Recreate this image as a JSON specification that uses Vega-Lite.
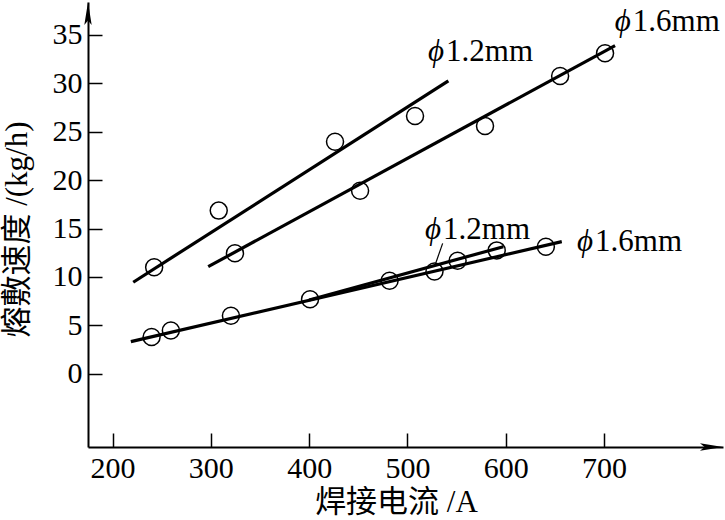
{
  "$schema": "https://vega.github.io/schema/vega-lite/v6.json",
  "width": 635,
  "height": 445,
  "autosize": {"type": "none"},
  "padding": {"left": 88, "top": 2, "right": 2, "bottom": 73},
  "background": "white",
  "config": {"view": {"stroke": null}, "font": "Liberation Serif"},
  "datasets": {
    "points": [
      {"series": "upper 1.2mm", "x": 242.3, "y": 11.0},
      {"series": "upper 1.2mm", "x": 308, "y": 16.85},
      {"series": "upper 1.2mm", "x": 426.3, "y": 23.97},
      {"series": "upper 1.2mm", "x": 507.7, "y": 26.63},
      {"series": "upper 1.6mm", "x": 324.5, "y": 12.44},
      {"series": "upper 1.6mm", "x": 451.8, "y": 18.91},
      {"series": "upper 1.6mm", "x": 578.9, "y": 25.6},
      {"series": "upper 1.6mm", "x": 655.3, "y": 30.76},
      {"series": "upper 1.6mm", "x": 701, "y": 33.1},
      {"series": "lower", "x": 239.7, "y": 3.8},
      {"series": "lower", "x": 259.3, "y": 4.47},
      {"series": "lower", "x": 320.4, "y": 5.98},
      {"series": "lower", "x": 400.9, "y": 7.69},
      {"series": "lower", "x": 481.8, "y": 9.6},
      {"series": "lower", "x": 527.5, "y": 10.56},
      {"series": "lower", "x": 551, "y": 11.67},
      {"series": "lower", "x": 590.8, "y": 12.74},
      {"series": "lower", "x": 640.8, "y": 13.12}
    ],
    "lines": [
      {"series": "upper 1.2mm", "x": 221, "y": 9.45},
      {"series": "upper 1.2mm", "x": 541.6, "y": 30.25},
      {"series": "upper 1.6mm", "x": 297.3, "y": 11.06},
      {"series": "upper 1.6mm", "x": 711.2, "y": 33.9},
      {"series": "lower 1.6mm", "x": 218.6, "y": 3.31},
      {"series": "lower 1.6mm", "x": 657, "y": 13.64},
      {"series": "lower 1.2mm", "x": 400, "y": 7.62},
      {"series": "lower 1.2mm", "x": 597.5, "y": 13.12},
      {"series": "leader", "x": 535.8, "y": 13.47},
      {"series": "leader", "x": 528, "y": 11.2}
    ],
    "labels": [
      {"phi": "ϕ", "size": "1.2mm", "x": 521, "y": 32.35},
      {"phi": "ϕ", "size": "1.6mm", "x": 711, "y": 35.45},
      {"phi": "ϕ", "size": "1.2mm", "x": 517.9, "y": 13.89},
      {"phi": "ϕ", "size": "1.6mm", "x": 672.5, "y": 12.71}
    ],
    "arrows": [
      {"dir": "up", "x": 175, "y": 38.4},
      {"dir": "right", "x": 821, "y": -7.57}
    ]
  },
  "encoding": {
    "x": {
      "field": "x",
      "type": "quantitative",
      "scale": {"domain": [175, 821], "nice": false, "zero": false},
      "axis": {
        "values": [200, 300, 400, 500, 600, 700],
        "orient": "bottom",
        "grid": false,
        "domainColor": "black",
        "domainWidth": 2,
        "tickColor": "black",
        "tickWidth": 1.5,
        "tickSize": -14,
        "labelFont": "Liberation Serif",
        "labelFontSize": 30,
        "labelColor": "black",
        "labelPadding": 20,
        "labelBaseline": "top",
        "title": "焊接电流 /A",
        "titleFont": "Liberation Serif, Noto Sans CJK SC",
        "titleFontSize": 31,
        "titleFontWeight": "normal",
        "titleColor": "black",
        "titleX": 308,
        "titleY": 64,
        "titleBaseline": "alphabetic",
        "titleAlign": "center"
      }
    },
    "y": {
      "field": "y",
      "type": "quantitative",
      "scale": {"domain": [-7.57, 38.4], "nice": false, "zero": false},
      "axis": {
        "values": [0, 5, 10, 15, 20, 25, 30, 35],
        "orient": "left",
        "grid": false,
        "domainColor": "black",
        "domainWidth": 2,
        "tickColor": "black",
        "tickWidth": 1.5,
        "tickSize": -14,
        "labelFont": "Liberation Serif",
        "labelFontSize": 30,
        "labelColor": "black",
        "labelPadding": 20,
        "labelBaseline": "middle",
        "title": "熔敷速度 /(kg/h)",
        "titleFont": "Liberation Serif, Noto Sans CJK SC",
        "titleFontSize": 31,
        "titleFontWeight": "normal",
        "titleColor": "black",
        "titleAngle": -90,
        "titleX": -71,
        "titleY": 227,
        "titleAlign": "center",
        "titleBaseline": "middle"
      }
    }
  },
  "layer": [
    {
      "data": {"name": "lines"},
      "mark": {"type": "line", "color": "black", "strokeCap": "butt"},
      "encoding": {
        "detail": {"field": "series"},
        "strokeWidth": {
          "condition": {"test": "datum.series === 'leader'", "value": 1.2},
          "value": 3.2
        }
      }
    },
    {
      "data": {"name": "points"},
      "mark": {"type": "point", "shape": "circle", "filled": false, "stroke": "black", "strokeWidth": 1.5, "size": 289, "opacity": 1}
    },
    {
      "data": {"name": "labels"},
      "mark": {"type": "text", "align": "left", "baseline": "alphabetic", "font": "Liberation Serif", "fontStyle": "italic", "fontSize": 31, "color": "black"},
      "encoding": {"text": {"field": "phi"}}
    },
    {
      "data": {"name": "labels"},
      "mark": {"type": "text", "align": "left", "baseline": "alphabetic", "font": "Liberation Serif", "fontSize": 31, "color": "black", "dx": 18},
      "encoding": {"text": {"field": "size"}}
    },
    {
      "data": {"name": "arrows"},
      "mark": {"type": "point", "filled": true, "color": "black", "opacity": 1, "size": 529},
      "encoding": {
        "shape": {
          "field": "dir",
          "type": "nominal",
          "scale": {"domain": ["up", "right"], "range": ["M0,0L-0.32,2L0,1.6L0.32,2Z", "M0,0L-2,-0.32L-1.6,0L-2,0.32Z"]},
          "legend": null
        }
      }
    }
  ]
}
